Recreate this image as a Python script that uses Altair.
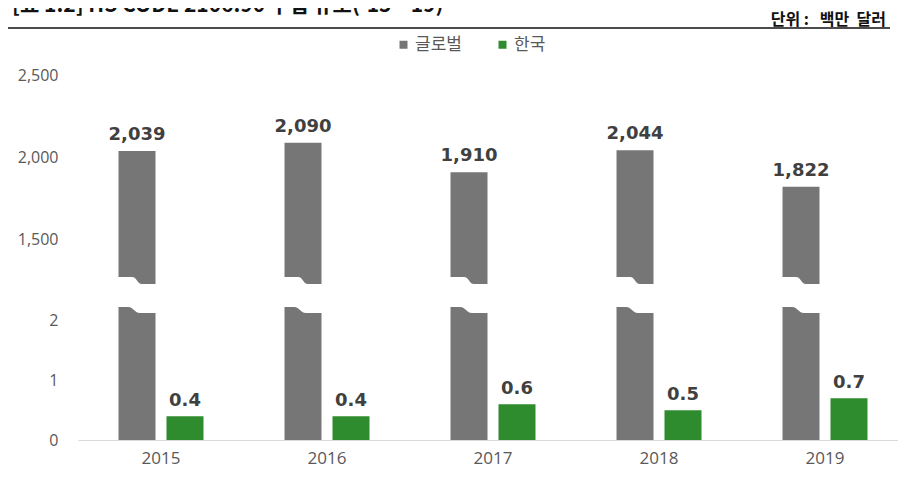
import altair as alt
import pandas as pd

# ---- data ----
years = ["2015", "2016", "2017", "2018", "2019"]
global_vals = [2039, 2090, 1910, 2044, 1822]
korea_vals = [0.4, 0.4, 0.6, 0.5, 0.7]
series_names = ["글로벌", "한국"]
upper_ticks = [1500, 2000, 2500]
lower_ticks = [0, 1, 2]
title_text = "[표 1.2] HS CODE 2106.90 수입 규모('15~'19)"
unit_text = "단위\u00a0:\u00a0\u00a0\u00a0백만\u00a0\u00a0달러"

df = pd.DataFrame({
    "year": years * 2,
    "series": [series_names[0]] * len(years) + [series_names[1]] * len(years),
    "value": global_vals + korea_vals,
})

# ---- styling / layout ----
GRAY = "#767676"
GREEN = "#2e8b2e"
LABEL_DARK = "#404040"
AXIS_GRAY = "#595959"
KR = "Noto Sans CJK KR"
NUM = "Open Sans"
VAL = "DejaVu Sans"

UP_DOMAIN = [1233, 2500]
UP_RANGE = [222, 13]
LOW_DOMAIN = [0, 2.235]
LOW_RANGE = [378, 245]

up_scale = alt.Scale(domain=UP_DOMAIN, range=UP_RANGE, nice=False, zero=False)
low_scale = alt.Scale(domain=LOW_DOMAIN, range=LOW_RANGE, nice=False, zero=False)

X = alt.X(
    "year:N", sort=years, title=None,
    scale=alt.Scale(domain=years, range=[0, 830], paddingInner=0, paddingOuter=0),
    axis=alt.Axis(domain=True, domainColor="#d9d9d9", domainWidth=1, ticks=False,
                  tickSize=0, labelPadding=10, labelFontSize=17, labelFont=NUM,
                  labelColor=AXIS_GRAY, labelAngle=0, grid=False),
)
XO = alt.XOffset("series:N", sort=series_names,
                 scale=alt.Scale(domain=series_names, paddingInner=0.229, paddingOuter=0.844))
C = alt.Color(
    "series:N",
    scale=alt.Scale(domain=series_names, range=[GRAY, GREEN]),
    legend=alt.Legend(orient="none", legendX=317, legendY=-26, direction="horizontal",
                      title=None, symbolType="square", symbolSize=64, symbolStrokeWidth=0,
                      symbolOpacity=1, labelFont=KR, labelFontSize=17, labelColor=AXIS_GRAY,
                      columnPadding=32, labelOffset=3),
)

base = alt.Chart(df)
g = base.transform_filter(alt.datum.series == series_names[0])
k = base.transform_filter(alt.datum.series == series_names[1])

upper_bars = g.mark_bar().encode(
    x=X, xOffset=XO,
    y=alt.Y("value:Q", scale=up_scale,
            axis=alt.Axis(orient="left", values=upper_ticks, title=None,
                          labelExpr="format(datum.value, ',')", labelPadding=20)),
    y2=alt.Y2Datum(UP_DOMAIN[0]),
    color=C,
)
upper_text = g.mark_text(font=VAL, fontSize=18, fontWeight="bold", color=LABEL_DARK,
                         baseline="alphabetic", dy=-11).encode(
    x=X, xOffset=XO,
    y=alt.Y("value:Q", scale=up_scale, axis=None),
    text=alt.Text("value:Q", format=","),
)
lower_gray = g.transform_calculate(vc=f"min(datum.value, {LOW_DOMAIN[1]})").mark_bar().encode(
    x=X, xOffset=XO,
    y=alt.Y("vc:Q", scale=low_scale,
            axis=alt.Axis(orient="left", values=lower_ticks, title=None,
                          labelExpr="format(datum.value, 'd')", labelPadding=20)),
    y2=alt.Y2Datum(0),
    color=C,
)
lower_green = k.mark_bar().encode(
    x=X, xOffset=XO,
    y=alt.Y("value:Q", scale=low_scale, axis=None),
    y2=alt.Y2Datum(0),
    color=C,
)
green_text = k.mark_text(font=VAL, fontSize=18, fontWeight="bold", color=LABEL_DARK,
                         baseline="alphabetic", dy=-10).encode(
    x=X, xOffset=XO,
    y=alt.Y("value:Q", scale=low_scale, axis=None),
    text=alt.Text("value:Q", format=".1f"),
)

BREAK_PATH = ("M -1.05 -1.5 L -0.25 -1.5 C 0 -1.5 0 -1.15 0.25 -1.15 L 1.05 -1.15 "
              "L 1.05 0.3 L 0.15 0.3 C -0.15 0.3 -0.15 0 -0.45 0 L -1.05 0 Z")
breaks = g.mark_point(shape=BREAK_PATH, filled=True, color="white", opacity=1,
                      size=1600, strokeOpacity=0).encode(
    x=X, xOffset=XO,
    y=alt.YDatum(LOW_DOMAIN[1], type="quantitative", scale=low_scale, axis=None),
)

ann = alt.Chart(pd.DataFrame({"t": [title_text], "u": [unit_text]}))
title_mark = ann.mark_text(align="left", baseline="alphabetic", font=KR, fontSize=21,
                           fontWeight="bold", color="#111111").encode(
    x=alt.value(-66), y=alt.value(-50), text="t:N")
unit_mark = ann.mark_text(align="right", baseline="alphabetic", font=KR, fontSize=16,
                          fontWeight="bold", color="#111111").encode(
    x=alt.value(808), y=alt.value(-37), text="u:N")
rule_mark = ann.mark_rule(color="#111111", strokeWidth=1.3).encode(
    x=alt.value(-73), x2=alt.value(812), y=alt.value(-34))

chart = alt.layer(
    upper_bars, lower_gray, lower_green, breaks, upper_text, green_text,
    title_mark, unit_mark, rule_mark,
).resolve_scale(y="independent").properties(
    width=820, height=378,
    autosize=alt.AutoSizeParams(type="none"),
    padding={"left": 70, "top": 54, "right": 0, "bottom": 40},
).configure_view(stroke=None).configure_axisY(
    grid=False, ticks=False, tickSize=0, domain=False,
    labelFont=NUM, labelFontSize=16, labelColor=AXIS_GRAY,
)

chart.save("out.html", embed_options={"renderer": "svg", "actions": False})
